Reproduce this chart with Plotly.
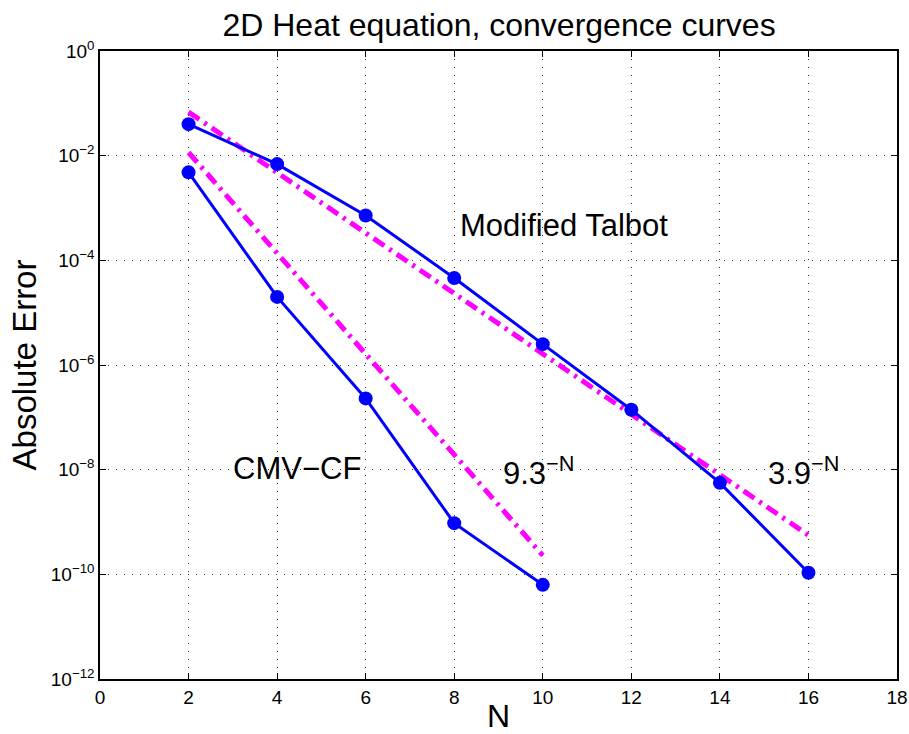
import plotly.graph_objects as go

# Data
N_talbot = [2, 4, 6, 8, 10, 12, 14, 16]
err_talbot = [4.0e-2, 6.9e-3, 7.2e-4, 4.6e-5, 2.5e-6, 1.4e-7, 5.6e-9, 1.07e-10]

N_cmv = [2, 4, 6, 8, 10]
err_cmv = [4.8e-3, 2.0e-5, 2.3e-7, 9.5e-10, 6.3e-11]

# reference slope lines (endpoints)
N_ref39 = [2, 16]
ref39 = [6.8e-2, 5.6e-10]
N_ref93 = [2, 10]
ref93 = [1.15e-2, 2.3e-10]

ytick_vals = [1e0, 1e-2, 1e-4, 1e-6, 1e-8, 1e-10, 1e-12]
ytick_text = ["10<sup>0</sup>", "10<sup>−2</sup>", "10<sup>−4</sup>", "10<sup>−6</sup>",
              "10<sup>−8</sup>", "10<sup>−10</sup>", "10<sup>−12</sup>"]
xtick_vals = [0, 2, 4, 6, 8, 10, 12, 14, 16, 18]

font_family = "Liberation Sans, Arial, sans-serif"
magenta = "#FF00FF"
blue = "#0000FF"
dash_pat = "13px,6px,3px,6px"

fig = go.Figure()

fig.add_trace(go.Scatter(x=N_ref39, y=ref39, mode="lines",
                         line=dict(color=magenta, width=5, dash=dash_pat),
                         showlegend=False, hoverinfo="skip"))
fig.add_trace(go.Scatter(x=N_ref93, y=ref93, mode="lines",
                         line=dict(color=magenta, width=5, dash=dash_pat),
                         showlegend=False, hoverinfo="skip"))
fig.add_trace(go.Scatter(x=N_talbot, y=err_talbot, mode="lines+markers",
                         line=dict(color=blue, width=3),
                         marker=dict(color=blue, size=14, symbol="circle"),
                         showlegend=False))
fig.add_trace(go.Scatter(x=N_cmv, y=err_cmv, mode="lines+markers",
                         line=dict(color=blue, width=3),
                         marker=dict(color=blue, size=14, symbol="circle"),
                         showlegend=False))

ann_font = dict(family=font_family, size=31, color="black")
fig.add_annotation(x=10.48, y=-3.33, xref="x", yref="y", text="Modified Talbot",
                   showarrow=False, font=ann_font, xanchor="center", yanchor="middle")
fig.add_annotation(x=4.46, y=-7.97, xref="x", yref="y", text="CMV−CF",
                   showarrow=False, font=ann_font, xanchor="center", yanchor="middle")
fig.add_annotation(x=9.91, y=-8.03, xref="x", yref="y", text="9.3<sup>−N</sup>",
                   showarrow=False, font=ann_font, xanchor="center", yanchor="middle")
fig.add_annotation(x=15.88, y=-8.03, xref="x", yref="y", text="3.9<sup>−N</sup>",
                   showarrow=False, font=ann_font, xanchor="center", yanchor="middle")

axis_common = dict(
    showline=True, linecolor="black", linewidth=1.5, mirror="ticks",
    ticks="inside", ticklen=6, tickcolor="black", tickwidth=1,
    showgrid=True, gridcolor="#333333", griddash="1px,7px", gridwidth=1,
    zeroline=False, automargin=False,
    tickfont=dict(family=font_family, size=19, color="black"),
)

fig.update_xaxes(range=[0, 18], tickvals=xtick_vals,
                 title=dict(text="N", font=dict(family=font_family, size=32, color="black"),
                            standoff=2),
                 **axis_common)
fig.update_yaxes(type="log", range=[-12, 0], tickvals=ytick_vals, ticktext=ytick_text,
                 title=dict(text="Absolute Error",
                            font=dict(family=font_family, size=33, color="black"),
                            standoff=4),
                 **axis_common)

fig.update_layout(
    width=909, height=734,
    margin=dict(l=100, r=12, t=51, b=55),
    paper_bgcolor="white", plot_bgcolor="white",
    title=dict(text="2D Heat equation, convergence curves", x=0.549, xanchor="center",
               y=0.966, yanchor="middle",
               font=dict(family=font_family, size=32, color="black")),
)

fig.write_html("out.html")
